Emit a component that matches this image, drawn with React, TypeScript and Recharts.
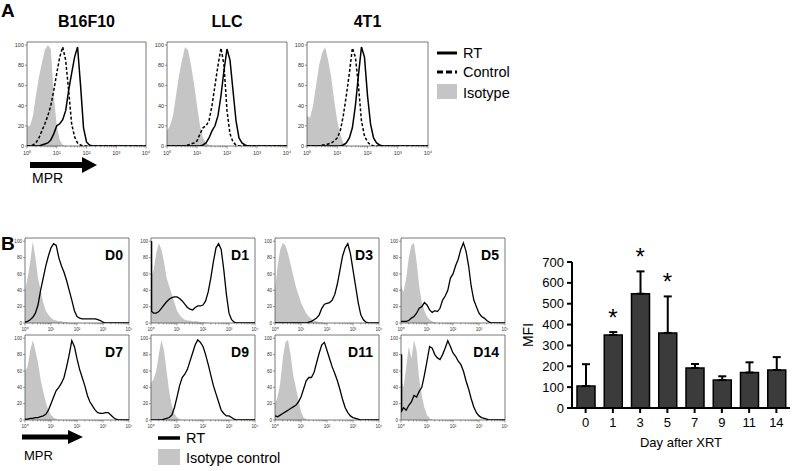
import React from 'react';
import { ComposedChart, Area, Line, Bar, XAxis, YAxis, ReferenceArea, ErrorBar, LabelList } from 'recharts';

const FONT = '"Liberation Sans", Arial, Helvetica, sans-serif';

// log10 fluorescence positions (decades), one histogram bin each
const GRID = [
  0, 0.1, 0.2, 0.3, 0.4, 0.5, 0.6, 0.7, 0.8, 0.9,
  1, 1.1, 1.2, 1.3, 1.4, 1.5, 1.6, 1.7, 1.8, 1.9,
  2, 2.1, 2.2, 2.3, 2.4, 2.5, 2.6, 2.7, 2.8, 2.9,
  3, 3.1, 3.2, 3.3, 3.4, 3.5, 3.6, 3.7, 3.8, 3.9,
  4,
];
const MINOR = [0.301, 0.477, 0.602, 0.699, 0.778, 0.845, 0.903, 0.954];
const X_TICKS = [0, 1, 2, 3].flatMap((d) => [d, ...MINOR.map((m) => d + m)]).concat([4]);
const X_LABELS = ['10⁰', '10¹', '10²', '10³', '10⁴'];
const Y_TICKS = [0, 20, 40, 60, 80, 100];

// Panel A
const B16_ISO = [
  20, 20, 30, 50, 68, 82, 95, 100, 96, 50,
  20, 6, 1, 0, 0, 0, 0, 0, 0, 0,
  0, 0, 0, 0, 0, 0, 0, 0, 0, 0,
  0, 0, 0, 0, 0, 0, 0, 0, 0, 0,
  0,
];
const B16_CTRL = [
  0, 0, 1, 3, 8, 15, 22, 30, 40, 55,
  72, 88, 98, 85, 55, 22, 9, 3, 1, 0,
  0, 0, 0, 0, 0, 0, 0, 0, 0, 0,
  0, 0, 0, 0, 0, 0, 0, 0, 0, 0,
  0,
];
const B16_RT = [
  0, 0, 0, 0, 0, 1, 2, 3, 6, 12,
  20, 22, 26, 35, 55, 72, 88, 98, 60, 18,
  4, 1, 0, 0, 0, 0, 0, 0, 0, 0,
  0, 0, 0, 0, 0, 0, 0, 0, 0, 0,
  0,
];
const LLC_ISO = [
  15, 20, 30, 50, 70, 85, 98, 95, 80, 62,
  40, 20, 8, 3, 1, 0, 0, 0, 0, 0,
  0, 0, 0, 0, 0, 0, 0, 0, 0, 0,
  0, 0, 0, 0, 0, 0, 0, 0, 0, 0,
  0,
];
const LLC_CTRL = [
  0, 0, 0, 0, 0, 0, 0, 1, 2, 3,
  5, 12, 18, 20, 25, 40, 60, 80, 97, 80,
  35, 12, 4, 1, 0, 0, 0, 0, 0, 0,
  0, 0, 0, 0, 0, 0, 0, 0, 0, 0,
  0,
];
const LLC_RT = [
  0, 0, 0, 0, 0, 0, 0, 0, 0, 0,
  0, 0, 1, 3, 8, 15, 20, 30, 50, 75,
  96, 85, 55, 25, 8, 3, 1, 0, 0, 0,
  0, 0, 0, 0, 0, 0, 0, 0, 0, 0,
  0,
];
const T41_ISO = [
  30, 28, 40, 60, 80, 92, 98, 85, 68, 45,
  25, 12, 3, 1, 0, 0, 0, 0, 0, 0,
  0, 0, 0, 0, 0, 0, 0, 0, 0, 0,
  0, 0, 0, 0, 0, 0, 0, 0, 0, 0,
  0,
];
const T41_CTRL = [
  0, 0, 0, 0, 0, 1, 1, 2, 3, 5,
  8, 15, 30, 50, 72, 97, 88, 60, 25, 10,
  4, 1, 0, 0, 0, 0, 0, 0, 0, 0,
  0, 0, 0, 0, 0, 0, 0, 0, 0, 0,
  0,
];
const T41_RT = [
  0, 0, 0, 0, 0, 0, 0, 0, 0, 0,
  0, 0, 1, 3, 8, 18, 40, 70, 98, 88,
  50, 22, 8, 3, 1, 0, 0, 0, 0, 0,
  0, 0, 0, 0, 0, 0, 0, 0, 0, 0,
  0,
];

// Panel B, days after XRT
const D0_ISO = [
  40, 55, 75, 100, 80, 55, 40, 25, 15, 10,
  6, 4, 3, 2, 2, 1, 1, 0, 0, 0,
  0, 0, 0, 0, 0, 0, 0, 0, 0, 0,
  0, 0, 0, 0, 0, 0, 0, 0, 0, 0,
  0,
];
const D0_RT = [
  1, 2, 4, 7, 12, 22, 40, 55, 70, 82,
  92, 97, 95, 80, 70, 62, 52, 40, 28, 15,
  8, 6, 5, 5, 5, 5, 5, 5, 4, 3,
  1, 0, 0, 0, 0, 0, 0, 0, 0, 0,
  0,
];
const D1_ISO = [
  55, 65, 85, 98, 90, 75, 55, 45, 35, 25,
  15, 10, 6, 4, 3, 3, 2, 2, 2, 1,
  1, 1, 0, 0, 0, 0, 0, 0, 0, 0,
  0, 0, 0, 0, 0, 0, 0, 0, 0, 0,
  0,
];
const D1_RT = [
  15, 12, 12, 14, 18, 22, 26, 29, 31, 32,
  32, 30, 27, 23, 19, 17, 16, 19, 21, 21,
  22, 27, 38, 55, 75, 92, 97, 90, 65, 35,
  12, 4, 1, 0, 0, 0, 0, 0, 0, 0,
  0,
];
const D3_ISO = [
  40, 70, 90, 98, 95, 85, 72, 58, 45, 35,
  25, 18, 12, 8, 5, 3, 2, 1, 1, 0,
  0, 0, 0, 0, 0, 0, 0, 0, 0, 0,
  0, 0, 0, 0, 0, 0, 0, 0, 0, 0,
  0,
];
const D3_RT = [
  0, 0, 0, 0, 0, 0, 0, 0, 0, 0,
  0, 0, 0, 1, 2, 4, 6, 10, 18, 23,
  24, 25, 28, 35, 48, 65, 82, 92, 97, 85,
  65, 45, 25, 10, 4, 1, 0, 0, 0, 0,
  0,
];
const D5_ISO = [
  45, 38, 55, 80, 95, 98, 75, 45, 25, 15,
  8, 4, 2, 1, 0, 0, 0, 0, 0, 0,
  0, 0, 0, 0, 0, 0, 0, 0, 0, 0,
  0, 0, 0, 0, 0, 0, 0, 0, 0, 0,
  0,
];
const D5_RT = [
  2, 2, 2, 3, 6, 8, 12, 18, 20, 25,
  22, 16, 13, 15, 14, 18, 28, 33, 40, 55,
  60, 70, 78, 90, 98, 88, 70, 45, 28, 20,
  12, 8, 6, 3, 1, 0, 0, 0, 0, 0,
  0,
];
const D7_ISO = [
  60, 65, 85, 98, 85, 70, 50, 35, 22, 12,
  6, 3, 1, 0, 0, 0, 0, 0, 0, 0,
  0, 0, 0, 0, 0, 0, 0, 0, 0, 0,
  0, 0, 0, 0, 0, 0, 0, 0, 0, 0,
  0,
];
const D7_RT = [
  1, 1, 2, 2, 3, 3, 4, 5, 7, 12,
  20, 28, 36, 40, 45, 52, 65, 80, 97, 90,
  75, 62, 52, 42, 30, 22, 17, 12, 9, 8,
  8, 9, 9, 6, 3, 1, 0, 0, 0, 0,
  0,
];
const D9_ISO = [
  45, 50, 60, 80, 98, 85, 60, 35, 18, 8,
  3, 1, 0, 0, 0, 0, 0, 0, 0, 0,
  0, 0, 0, 0, 0, 0, 0, 0, 0, 0,
  0, 0, 0, 0, 0, 0, 0, 0, 0, 0,
  0,
];
const D9_RT = [
  0, 0, 0, 0, 0, 1, 2, 3, 6, 15,
  28, 42, 52, 56, 62, 72, 82, 92, 98, 95,
  90, 80, 68, 55, 42, 32, 22, 12, 8, 5,
  5, 3, 1, 0, 0, 0, 0, 0, 0, 0,
  0,
];
const D11_ISO = [
  20, 28, 45, 75, 95, 98, 80, 55, 40, 25,
  10, 3, 1, 0, 0, 0, 0, 0, 0, 0,
  0, 0, 0, 0, 0, 0, 0, 0, 0, 0,
  0, 0, 0, 0, 0, 0, 0, 0, 0, 0,
  0,
];
const D11_RT = [
  5, 4, 6, 8, 10, 12, 14, 16, 18, 22,
  28, 38, 48, 52, 52, 58, 70, 82, 92, 95,
  85, 75, 65, 57, 48, 37, 25, 15, 9, 5,
  3, 2, 1, 0, 0, 0, 0, 0, 0, 0,
  0,
];
const D14_ISO = [
  50, 40, 65, 90, 75, 98, 85, 50, 30, 15,
  6, 2, 0, 0, 0, 0, 0, 0, 0, 0,
  0, 0, 0, 0, 0, 0, 0, 0, 0, 0,
  0, 0, 0, 0, 0, 0, 0, 0, 0, 0,
  0,
];
const D14_RT = [
  10, 15, 12, 18, 22, 30, 28, 35, 40, 55,
  72, 90, 88, 80, 76, 74, 80, 88, 97, 90,
  82, 78, 72, 68, 60, 48, 38, 26, 16, 9,
  5, 3, 2, 1, 0, 0, 0, 0, 0, 0,
  0,
];

// Bar chart (MFI)
const DAYS = ['0', '1', '3', '5', '7', '9', '11', '14'];
const MFI = [105, 350, 548, 360, 192, 134, 170, 182];
const MFI_SD = [105, 14, 107, 175, 19, 18, 49, 62];
const STARS = ['', '*', '*', '*', '', '', '', ''];
const MFI_TICKS = [0, 100, 200, 300, 400, 500, 600, 700];

function LogTick(props: any) {
  const { x, y, payload, fs } = props;
  const v = payload.value;
  const major = Math.abs(v - Math.round(v)) < 1e-6;
  return (
    <g>
      <line x1={x} y1={y} x2={x} y2={y + (major ? 2.5 : 1.4)} stroke="#555" strokeWidth={0.6} />
      {major && (
        <text x={x} y={y + 3 + fs} textAnchor="middle" fontSize={fs} fill="#333" fontFamily={FONT}>
          {X_LABELS[Math.round(v)]}
        </text>
      )}
    </g>
  );
}

interface HistProps {
  left: number;
  top: number;
  w: number;
  h: number;
  yMax: number;
  fs: number;
  iso: number[];
  rt: number[];
  ctrl?: number[];
  spike?: number;
  lw: number;
}

function Histogram({ left, top, w, h, yMax, fs, iso, rt, ctrl, spike, lw }: HistProps) {
  const rows: any[] = GRID.map((x, i) => ({ x, iso: iso[i] ?? 0, rt: rt[i] ?? 0, ctrl: ctrl ? ctrl[i] ?? 0 : undefined }));
  if (spike) {
    rows.unshift({ x: 0, iso: iso[0], rt: spike, spk: spike });
    rows[1].spk = rt[0];
  }
  const yw = 14;
  const xh = 12;
  const rm = 8;
  return (
    <div style={{ position: 'absolute', left: left - yw, top: top - 1 }}>
      <ComposedChart width={yw + w + rm} height={h + xh + 1} data={rows} margin={{ top: 1, right: rm, bottom: 0, left: 0 }}>
        <XAxis
          dataKey="x"
          type="number"
          domain={[0, 4]}
          ticks={X_TICKS}
          interval={0}
          tick={(p: any) => <LogTick {...p} fs={fs} />}
          tickLine={false}
          tickSize={0}
          tickMargin={0}
          axisLine={false}
          height={xh}
          allowDataOverflow
        />
        <YAxis
          type="number"
          domain={[0, yMax]}
          ticks={Y_TICKS}
          interval={0}
          width={yw}
          tick={{ fontSize: fs, fill: '#333', fontFamily: FONT }}
          tickSize={2}
          tickMargin={1}
          tickLine={{ stroke: '#555', strokeWidth: 0.6 }}
          axisLine={false}
          allowDataOverflow
        />
        <Area dataKey="iso" type="linear" fill="#c5c5c5" fillOpacity={1} stroke="none" isAnimationActive={false} />
        {ctrl && (
          <Line dataKey="ctrl" type="linear" stroke="#000" strokeWidth={lw} strokeDasharray="3 2" dot={false} isAnimationActive={false} />
        )}
        <Line dataKey="rt" type="linear" stroke="#000" strokeWidth={lw} dot={false} isAnimationActive={false} />
        {spike && <Line dataKey="spk" type="linear" stroke="#000" strokeWidth={2.6} dot={false} isAnimationActive={false} />}
        <ReferenceArea x1={0} x2={4} y1={0} y2={yMax} fill="none" stroke="#555" strokeWidth={0.8} />
      </ComposedChart>
    </div>
  );
}

function StarLabel(props: any) {
  const { x, y, value } = props;
  if (!value) return null;
  return (
    <text x={x} y={y - 6} textAnchor="middle" fontSize={24} fontFamily={FONT} fill="#000">
      {value}
    </text>
  );
}

function MfiChart() {
  const rows = DAYS.map((d, i) => ({ day: d, mfi: MFI[i], err: [0, MFI_SD[i]], top: MFI[i] + MFI_SD[i], star: STARS[i] }));
  const axisStyle = { stroke: '#000', strokeWidth: 2 };
  return (
    <div style={{ position: 'absolute', left: 510, top: 230 }}>
      <ComposedChart width={283} height={208} data={rows} margin={{ top: 32, right: 3, bottom: 0, left: 0 }}>
        <XAxis
          dataKey="day"
          interval={0}
          height={30}
          tickSize={5}
          tickMargin={5}
          tick={{ fontSize: 13, fill: '#000', fontFamily: FONT }}
          tickLine={axisStyle}
          axisLine={axisStyle}
        />
        <YAxis
          type="number"
          domain={[0, 700]}
          ticks={MFI_TICKS}
          interval={0}
          width={62}
          tickSize={5}
          tickMargin={3}
          tick={{ fontSize: 13, fill: '#000', fontFamily: FONT }}
          tickLine={axisStyle}
          axisLine={axisStyle}
        />
        <Bar dataKey="mfi" fill="#3b3b3b" stroke="#000" strokeWidth={1.5} barSize={18} isAnimationActive={false}>
          <ErrorBar dataKey="err" width={4} stroke="#000" strokeWidth={2} direction="y" />
        </Bar>
        <Line dataKey="top" stroke="none" dot={false} activeDot={false} isAnimationActive={false}>
          <LabelList dataKey="star" content={StarLabel} />
        </Line>
      </ComposedChart>
    </div>
  );
}

const A_PANELS = [
  { title: 'B16F10', left: 27, w: 119, iso: B16_ISO, rt: B16_RT, ctrl: B16_CTRL },
  { title: 'LLC', left: 167, w: 120, iso: LLC_ISO, rt: LLC_RT, ctrl: LLC_CTRL },
  { title: '4T1', left: 307, w: 121, iso: T41_ISO, rt: T41_RT, ctrl: T41_CTRL },
];

const B_PANELS = [
  { label: 'D0', left: 25, top: 238, iso: D0_ISO, rt: D0_RT },
  { label: 'D1', left: 151, top: 238, iso: D1_ISO, rt: D1_RT, spike: 100 },
  { label: 'D3', left: 275, top: 238, iso: D3_ISO, rt: D3_RT },
  { label: 'D5', left: 401, top: 238, iso: D5_ISO, rt: D5_RT },
  { label: 'D7', left: 25, top: 335, iso: D7_ISO, rt: D7_RT },
  { label: 'D9', left: 151, top: 335, iso: D9_ISO, rt: D9_RT },
  { label: 'D11', left: 275, top: 335, iso: D11_ISO, rt: D11_RT },
  { label: 'D14', left: 401, top: 335, iso: D14_ISO, rt: D14_RT, spike: 80 },
];
const B_W = 104;
const B_H = 85;

export default function App() {
  return (
    <div style={{ position: 'absolute', left: 0, top: 0, width: 793, height: 471, background: '#fff', fontFamily: FONT, overflow: 'hidden' }}>
      {A_PANELS.map((p) => (
        <Histogram key={p.title} left={p.left} top={42} w={p.w} h={104} yMax={103} fs={5.5} iso={p.iso} rt={p.rt} ctrl={p.ctrl} lw={1.5} />
      ))}
      {B_PANELS.map((p) => (
        <Histogram key={p.label} left={p.left} top={p.top} w={B_W} h={B_H} yMax={104} fs={4.6} iso={p.iso} rt={p.rt} spike={p.spike} lw={1.3} />
      ))}
      <MfiChart />

      <svg width={793} height={471} style={{ position: 'absolute', left: 0, top: 0, pointerEvents: 'none' }} fontFamily={FONT}>
        <text x={1} y={17} fontSize={19} fontWeight="bold">A</text>
        <text x={1} y={250} fontSize={19} fontWeight="bold">B</text>

        {A_PANELS.map((p) => (
          <text key={p.title} x={p.left + p.w / 2} y={27} fontSize={16} fontWeight="bold" textAnchor="middle">
            {p.title}
          </text>
        ))}

        {/* legend A */}
        <line x1={437} y1={53} x2={457} y2={53} stroke="#000" strokeWidth={3} />
        <text x={463} y={58} fontSize={14.5}>RT</text>
        <line x1={437} y1={72} x2={457} y2={72} stroke="#000" strokeWidth={3} strokeDasharray="6 3" />
        <text x={463} y={77} fontSize={14.5}>Control</text>
        <rect x={437} y={84} width={20} height={15} fill="#c5c5c5" />
        <text x={463} y={98} fontSize={14.5}>Isotype</text>

        {/* MPR arrow A */}
        <polygon points="30,162 82,162 82,157 97,165 82,173 82,168 30,168" fill="#000" />
        <text x={32} y={183} fontSize={14}>MPR</text>

        {/* MPR arrow B */}
        <polygon points="22,434.5 68,434.5 68,430 83,437 68,444 68,439.5 22,439.5" fill="#000" />
        <text x={24} y={460} fontSize={13}>MPR</text>

        {/* legend B */}
        <line x1={158} y1={438} x2={180} y2={438} stroke="#000" strokeWidth={3.5} />
        <text x={186} y={443} fontSize={14.5}>RT</text>
        <rect x={158} y={449} width={22} height={16} fill="#c5c5c5" />
        <text x={186} y={463} fontSize={14.5}>Isotype control</text>

        {B_PANELS.map((p) => (
          <text key={p.label} x={p.left + B_W - 6} y={p.top + 22} fontSize={14} fontWeight="bold" textAnchor="end">
            {p.label}
          </text>
        ))}

        <text x={533} y={335} fontSize={14} textAnchor="middle" transform="rotate(-90 533 335)">MFI</text>
        <text x={681} y={447} fontSize={13} textAnchor="middle">Day after XRT</text>
      </svg>
    </div>
  );
}
